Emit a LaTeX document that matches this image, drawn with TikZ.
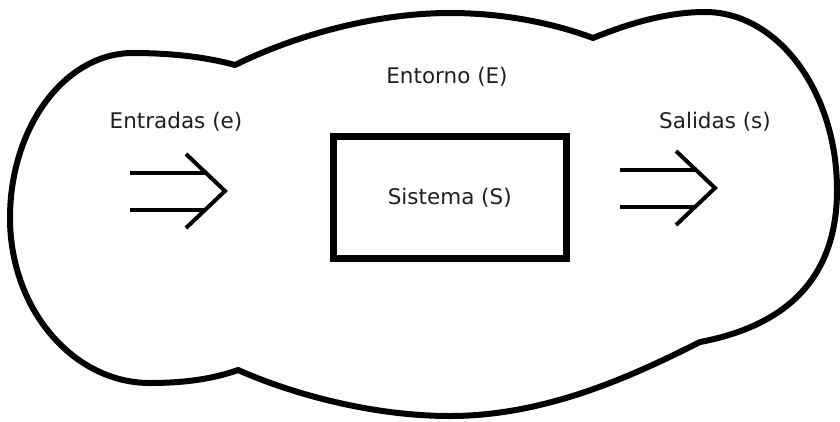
\documentclass[tikz,border=0pt]{standalone}
\usepackage{fontspec}
\setmainfont{DejaVu Sans}
\usetikzlibrary{positioning}
\tikzset {
	etiqueta/.style={font=\fontsize{21.5}{26}\selectfont, text=black!88, inner sep=0pt},
	caja/.style={rectangle, draw, line width=7pt, minimum width=233.5pt, minimum height=122pt, inner sep=0pt},
	nube/.style={draw, line width=6pt, line join=round},
	dobleFlecha/.pic={
		\draw[line width=4pt] (-95,-18.5) -- (-19,-18.5) (-95,18.5) -- (-19,18.5);
		\draw[line width=4pt, line join=miter] (-39,-37) -- (0,0) -- (-39,37);
	}
}
\begin{document}
\begin{tikzpicture}[x=1pt, y=-1pt]
					\useasboundingbox (0,0) rectangle (840,421);
					% entorno
					\coordinate (muescaA) at (238,370);
					\coordinate (muescaB) at (235,65);
					\coordinate (muescaC) at (593,38);
					\coordinate (muescaD) at (700,342);
					\draw[nube] (muescaA) .. controls (210,380) and (180,383) .. (150,383)
						.. controls (73,383) and (10,309) .. (10,218)
						.. controls (10,127) and (65,53) .. (133,53)
						.. controls (175,53) and (210,58) .. (muescaB)
						.. controls (300,33) and (380,13) .. (450,13)
						.. controls (500,13) and (550,22) .. (muescaC)
						.. controls (625,25) and (665,12) .. (705,12)
						.. controls (778,12) and (837,92) .. (837,190)
						.. controls (837,275) and (790,325) .. (muescaD)
						.. controls (640,372) and (550,416) .. (450,416)
						.. controls (370,416) and (290,393) .. (muescaA) -- cycle;
					\node[etiqueta] (entorno) at (447,77) {Entorno (E)};
					% sistema
					\node[caja, etiqueta] (sistema) at (449.75,197.5) {Sistema (S)};
					% entradas y salidas
					\node[etiqueta] (entradas) at (176,122) {Entradas (e)};
					\node[etiqueta] (salidas) at (715,122) {Salidas (s)};
					\coordinate (puntaEntrada) at (225,191);
					\coordinate (puntaSalida) at (715,188);
					\pic at (puntaEntrada) {dobleFlecha};
					\pic at (puntaSalida) {dobleFlecha};
\end{tikzpicture}
\end{document}
